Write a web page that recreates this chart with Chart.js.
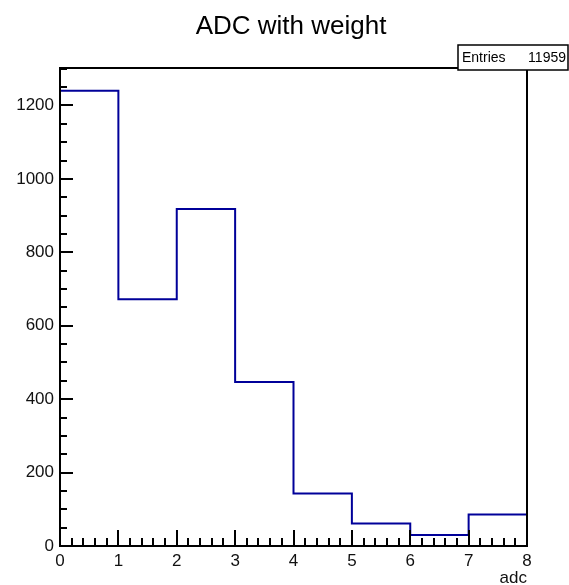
<!DOCTYPE html>
<html>
<head>
<meta charset="utf-8">
<script src="https://cdn.jsdelivr.net/npm/chart.js@4.4.1/dist/chart.umd.min.js"></script>
<style>
  html, body { margin: 0; padding: 0; background: #fff; }
  #wrap { width: 569px; height: 585px; }
</style>
</head>
<body>
<div id="wrap"><canvas id="hist"></canvas></div>
<script>
// Histogram data
const binEdges = [0, 1, 2, 3, 4, 5, 6, 7, 8];
const binCounts = [1240, 672, 918, 447, 143, 61, 30, 86];
const xTicks = [0, 1, 2, 3, 4, 5, 6, 7, 8];
const yTicks = [0, 200, 400, 600, 800, 1000, 1200];
const yMax = 1302;
const entries = 11959;
const titleText = 'ADC with weight';

// one point per lower bin edge, plus the upper edge of the last bin
const points = binCounts.map((c, i) => ({ x: binEdges[i], y: c }));
points.push({ x: binEdges[binEdges.length - 1], y: binCounts[binCounts.length - 1] });

const fontFamily = 'Liberation Sans, Arial, sans-serif';
const labelFont = { family: fontFamily, size: 17 };

// frame, inward ticks, title and stats box, drawn ROOT style
const rootStyle = {
    id: 'rootStyle',
    afterDatasetsDraw(chart) {
        const ctx = chart.ctx;
        const a = chart.chartArea;
        const xs = chart.scales.x;
        const ys = chart.scales.y;
        ctx.save();
        ctx.strokeStyle = '#000';
        ctx.lineWidth = 2;

        // y ticks: major every 200, minor every 50
        for (let v = 0; v <= yMax; v += 50) {
            const py = Math.round(ys.getPixelForValue(v));
            const len = (v % 200 === 0) ? 13 : 7;
            ctx.beginPath();
            ctx.moveTo(a.left, py);
            ctx.lineTo(a.left + len, py);
            ctx.stroke();
        }
        // x ticks: major every 1, minor every 0.2
        for (let i = 0; i <= 40; i++) {
            const px = Math.round(xs.getPixelForValue(i / 5));
            const len = (i % 5 === 0) ? 16 : 8;
            ctx.beginPath();
            ctx.moveTo(px, a.bottom);
            ctx.lineTo(px, a.bottom - len);
            ctx.stroke();
        }

        // frame
        ctx.strokeRect(a.left, a.top, a.right - a.left, a.bottom - a.top);

        // title
        ctx.fillStyle = '#000';
        ctx.font = '26px ' + fontFamily;
        ctx.textAlign = 'center';
        ctx.textBaseline = 'alphabetic';
        ctx.fillText(titleText, 291, 34);

        // stats box
        const bx = 458, by = 45, bw = 110, bh = 25;
        ctx.fillStyle = '#fff';
        ctx.fillRect(bx, by, bw, bh);
        ctx.lineWidth = 1.5;
        ctx.strokeRect(bx, by, bw, bh);
        ctx.fillStyle = '#000';
        ctx.font = '14px ' + fontFamily;
        ctx.textBaseline = 'middle';
        ctx.textAlign = 'left';
        ctx.fillText('Entries', bx + 4, by + bh / 2 + 1);
        ctx.textAlign = 'right';
        ctx.fillText(String(entries), bx + bw - 2, by + bh / 2 + 1);
        ctx.restore();
    }
};

const ctx = document.getElementById('hist').getContext('2d');
const histChart = new Chart(ctx, {
    type: 'line',
    data: {
        datasets: [{
            label: 'adc',
            data: points,
            stepped: 'before',
            borderColor: '#000099',
            borderWidth: 2,
            pointRadius: 0,
            fill: false
        }]
    },
    options: {
        responsive: true,
        maintainAspectRatio: false,
        animation: false,
        layout: { padding: { left: 0, right: 42, top: 68, bottom: 0 } },
        plugins: {
            legend: { display: false },
            tooltip: { enabled: false },
            title: { display: false }
        },
        scales: {
            x: {
                type: 'linear',
                min: 0,
                max: 8,
                grid: { display: false, tickLength: 0 },
                border: { display: false },
                afterBuildTicks: (scale) => { scale.ticks = xTicks.map(v => ({ value: v })); },
                afterFit: (scale) => { scale.height = 39; },
                ticks: { color: '#111', font: labelFont, padding: 5, maxRotation: 0, autoSkip: false },
                title: {
                    display: true,
                    text: 'adc',
                    align: 'end',
                    color: '#111',
                    font: labelFont,
                    padding: { top: 0, bottom: -4 }
                }
            },
            y: {
                min: 0,
                max: yMax,
                grid: { display: false, tickLength: 0 },
                border: { display: false },
                afterBuildTicks: (scale) => { scale.ticks = yTicks.map(v => ({ value: v })); },
                afterFit: (scale) => { scale.width = 60; },
                ticks: {
                    color: '#111',
                    font: labelFont,
                    padding: 6,
                    autoSkip: false,
                    callback: (v) => String(v)
                }
            }
        }
    },
    plugins: [rootStyle]
});
</script>
</body>
</html>
